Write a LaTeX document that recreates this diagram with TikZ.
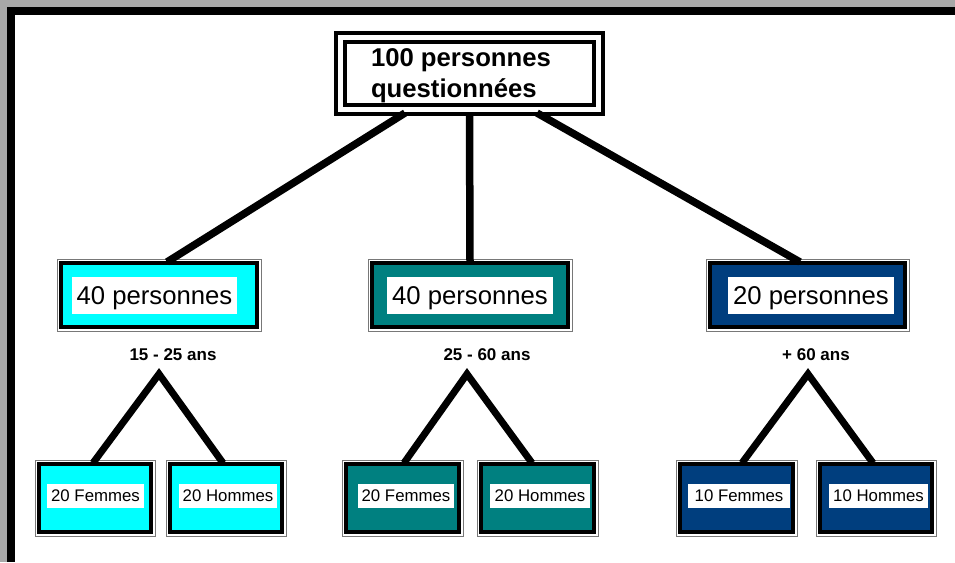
\documentclass[tikz,border=0pt]{standalone}
\usepackage{fontspec}
\setmainfont{Liberation Sans}
\usetikzlibrary{calc}
\definecolor{cyanfill}{RGB}{0,255,255}
\definecolor{tealfill}{RGB}{0,128,128}
\definecolor{bluefill}{RGB}{0,62,126}
\definecolor{bggray}{RGB}{168,168,168}
\definecolor{rimgray}{RGB}{120,120,120}
\tikzset{
  topframe/.style={draw=black, line width=4pt, double=white, double distance=5pt,
    minimum width=258pt, minimum height=72pt, inner sep=0pt, outer sep=0pt},
  toptext/.style={align=left, inner sep=0pt, font=\bfseries\fontsize{25.7}{31}\selectfont},
  panelbox/.style={draw=black, line width=4pt, fill=#1, inner sep=0pt, outer sep=0pt,
    append after command={
      \pgfextra{\draw[rimgray, line width=0.8pt]
        ([shift={(-4pt,-4pt)}]\tikzlastnode.south west) rectangle
        ([shift={(4pt,4pt)}]\tikzlastnode.north east);}}},
  midbox/.style={panelbox=#1, minimum width=196pt, minimum height=64pt},
  lowbox/.style={panelbox=#1, minimum width=113pt, minimum height=68pt},
  midlabel/.style={fill=white, inner sep=0pt, minimum width=166pt, minimum height=37pt,
    text height=18.4pt, text depth=0pt, font=\fontsize{25.7}{30}\selectfont},
  lowlabel/.style={fill=white, inner sep=0pt, minimum width=99pt, minimum height=24pt,
    text height=12pt, text depth=0pt, font=\fontsize{16.8}{20}\selectfont},
  agelabel/.style={anchor=base, inner sep=0pt, font=\bfseries\fontsize{17}{20}\selectfont},
  conn/.style={line width=7.5pt},
  leg/.style={line width=7pt, line join=miter}
}
\begin{document}
\begin{tikzpicture}[x=1pt,y=-1pt]
\useasboundingbox (0,0) rectangle (955,562);
\fill[bggray] (0,0) rectangle (955,562);
\fill[black] (7,7) rectangle (955,562);
\fill[white] (15,15) rectangle (955,562);

% top
\node[topframe] (top) at (469.5,73) {};
\node[toptext] (toptxt) at (461,76) {100 personnes\\questionnées};

% middle level
\node[midbox=cyanfill] (m1) at (159,295) {};
\node[midbox=tealfill] (m2) at (470,295) {};
\node[midbox=bluefill, minimum width=195pt] (m3) at (807.5,295) {};
\node[midlabel, minimum width=165pt] (l1) at (154.5,295.5) {40 personnes};
\node[midlabel] (l2) at (470,295.5) {40 personnes};
\node[midlabel] (l3) at (811,295.5) {20 personnes};

% age labels
\node[agelabel] (a1) at (173,360) {15 - 25 ans};
\node[agelabel] (a2) at (487,360) {25 - 60 ans};
\node[agelabel] (a3) at (816,360) {+ 60 ans};

% bottom level
\node[lowbox=cyanfill, minimum width=112pt] (b1) at (95,498) {};
\node[lowbox=cyanfill, minimum width=112pt] (b2) at (226,498) {};
\node[lowbox=tealfill] (b3) at (402.5,498) {};
\node[lowbox=tealfill] (b4) at (537.5,498) {};
\node[lowbox=bluefill] (b5) at (736.5,498) {};
\node[lowbox=bluefill, minimum width=112pt] (b6) at (876,498) {};
\node[lowlabel, minimum width=97pt] (bl1) at (95.5,495.5) {20 Femmes};
\node[lowlabel, minimum width=98pt] (bl2) at (228,495.5) {20 Hommes};
\node[lowlabel, minimum width=96pt] (bl3) at (406,495.5) {20 Femmes};
\node[lowlabel, minimum width=100pt] (bl4) at (540,495.5) {20 Hommes};
\node[lowlabel, minimum width=102pt] (bl5) at (739,495.5) {10 Femmes};
\node[lowlabel, minimum width=99pt] (bl6) at (878.5,495.5) {10 Hommes};

% connectors from top
\draw[conn] ([xshift=-64.5pt,yshift=-4pt]top.south) -- ([xshift=8pt,yshift=1pt]m1.north);
\draw[conn] ([yshift=-4pt]top.south) -- ([yshift=1pt]m2.north);
\draw[conn] ([xshift=67.5pt,yshift=-4pt]top.south) -- ([xshift=-7.5pt,yshift=1pt]m3.north);

% legs
\coordinate (ap1) at (159,374);
\coordinate (ap2) at (467,374);
\coordinate (ap3) at (808,374);
\draw[leg] ([xshift=-2pt,yshift=1pt]b1.north) -- (ap1) -- ([xshift=-3pt,yshift=1pt]b2.north);
\draw[leg] ([xshift=1.5pt,yshift=1pt]b3.north) -- (ap2) -- ([xshift=-5.5pt,yshift=1pt]b4.north);
\draw[leg] ([xshift=5.5pt,yshift=1pt]b5.north) -- (ap3) -- ([xshift=-3pt,yshift=1pt]b6.north);
\end{tikzpicture}
\end{document}
